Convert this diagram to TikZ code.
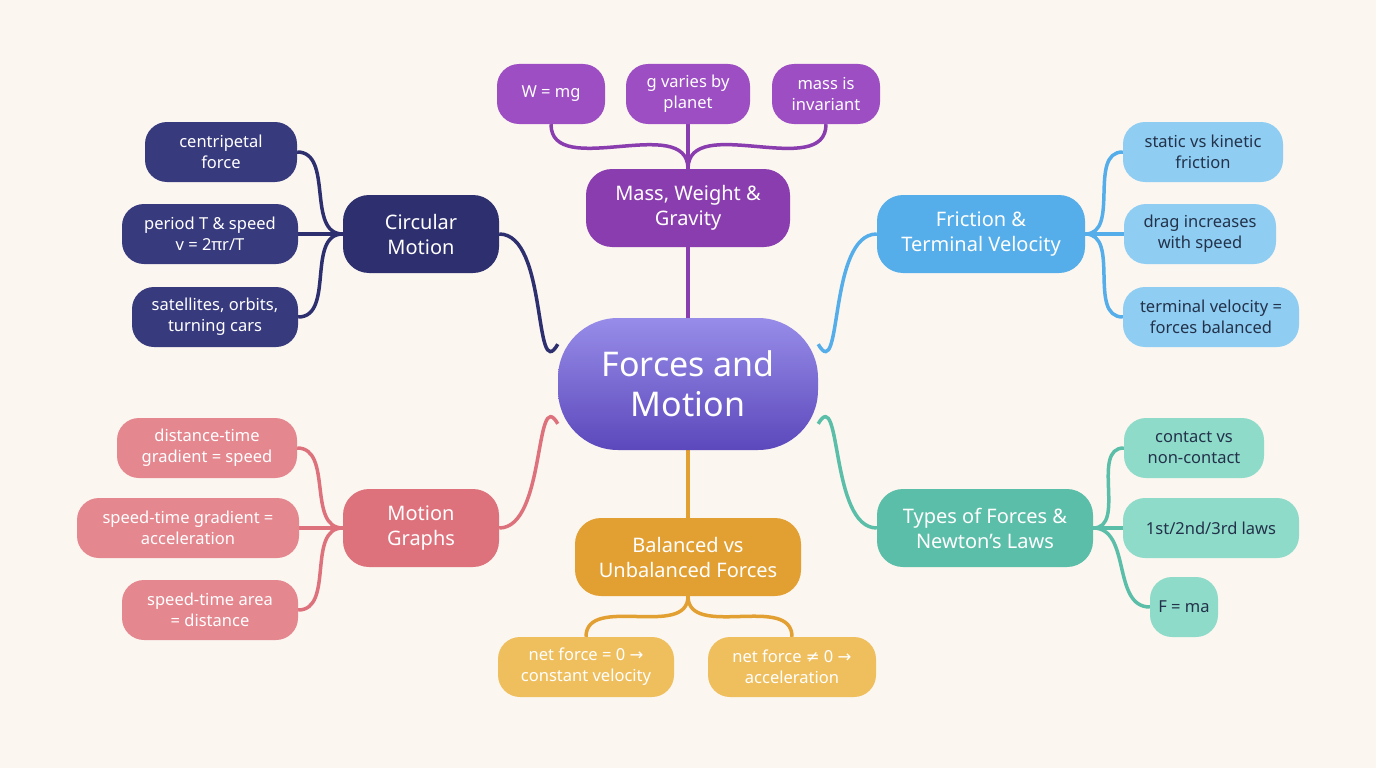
\documentclass[tikz,border=0pt]{standalone}
\usepackage{fontspec}
\setmainfont{Noto Sans}
\newfontfamily\symf{DejaVu Sans}
\usetikzlibrary{backgrounds}
\definecolor{bgc}{HTML}{FBF6F0}
\definecolor{cA}{HTML}{6650D0}
\definecolor{pur}{HTML}{8A3DAE}\definecolor{purL}{HTML}{9C4EC2}
\definecolor{nav}{HTML}{2E2F6E}\definecolor{navL}{HTML}{383A7E}
\definecolor{blu}{HTML}{55AEEA}\definecolor{bluL}{HTML}{8FCEF2}
\definecolor{pnk}{HTML}{DE727C}\definecolor{pnkL}{HTML}{E5878F}
\definecolor{org}{HTML}{E3A032}\definecolor{orgL}{HTML}{EFBF5E}
\definecolor{tea}{HTML}{5BBEA8}\definecolor{teaL}{HTML}{8EDBC9}
\definecolor{dk}{HTML}{23324A}
\tikzset{
 box/.style={rounded corners=26pt,align=center,inner sep=0pt,text=white},
 br/.style={box,minimum height=78pt,font=\fontsize{20}{25}\selectfont},
 ch/.style={box,rounded corners=22pt,minimum height=60pt,font=\fontsize{16.5}{21}\selectfont},
 ln/.style={line width=3.5pt}
}
\begin{document}
\begin{tikzpicture}[x=1pt,y=-1pt]
\node[box,minimum width=260pt,minimum height=132pt,rounded corners=60pt,top color=cA!80!blue!60!white,bottom color=cA!90!black,font=\fontsize{34}{40}\bfseries\selectfont] (c) at (688,384) {Forces and\\Motion};
% branches
\node[br,fill=pur,minimum width=204pt] (m) at (688,208) {Mass, Weight \&\\Gravity};
\node[br,fill=nav,minimum width=156pt] (cm) at (421,234) {Circular\\Motion};
\node[br,fill=blu,minimum width=208pt] (fr) at (981,234) {Friction \&\\Terminal Velocity};
\node[br,fill=pnk,minimum width=156pt] (mg) at (421,528) {Motion\\Graphs};
\node[br,fill=org,minimum width=226pt] (ba) at (688,557) {Balanced vs\\Unbalanced Forces};
\node[br,fill=tea,minimum width=216pt] (ty) at (985,528) {Types of Forces \&\\Newton’s Laws};
% children
\node[ch,fill=purL,minimum width=108pt] (m1) at (551,94) {W = mg};
\node[ch,fill=purL,minimum width=124pt] (m2) at (688,94) {g varies by\\planet};
\node[ch,fill=purL,minimum width=108pt] (m3) at (826,94) {mass is\\invariant};
\node[ch,fill=navL,minimum width=152pt] (c1) at (221,152) {centripetal\\force};
\node[ch,fill=navL,minimum width=176pt] (c2) at (210,234) {period T \& speed\\v = 2πr/T};
\node[ch,fill=navL,minimum width=166pt] (c3) at (215,317) {satellites, orbits,\\turning cars};
\node[ch,fill=bluL,text=dk,minimum width=160pt] (f1) at (1203,152) {static vs kinetic\\friction};
\node[ch,fill=bluL,text=dk,minimum width=152pt] (f2) at (1200,234) {drag increases\\with speed};
\node[ch,fill=bluL,text=dk,minimum width=176pt] (f3) at (1211,317) {terminal velocity =\\forces balanced};
\node[ch,fill=pnkL,minimum width=180pt] (g1) at (207,448) {distance-time\\gradient = speed};
\node[ch,fill=pnkL,minimum width=222pt] (g2) at (188,528) {speed-time gradient =\\acceleration};
\node[ch,fill=pnkL,minimum width=176pt] (g3) at (210,610) {speed-time area\\= distance};
\node[ch,fill=orgL,minimum width=176pt] (b1) at (586,667) {net force = 0 {\symf→}\\constant velocity};
\node[ch,fill=orgL,minimum width=168pt] (b2) at (792,667) {net force {\symf≠} 0 {\symf→}\\acceleration};
\node[ch,fill=teaL,text=dk,minimum width=140pt] (t1) at (1194,448) {contact vs\\non-contact};
\node[ch,fill=teaL,text=dk,minimum width=176pt] (t2) at (1211,528) {1st/2nd/3rd laws};
\node[ch,fill=teaL,text=dk,minimum width=68pt] (t3) at (1184,607) {F = ma};
\begin{scope}[on background layer]
\fill[bgc] (0,0) rectangle (1376,768);
\draw[ln,pur] (c.north) -- (m.south);
\draw[ln,org] (c.south) -- (ba.north);
\draw[ln,nav] (c.163) to[out=240,in=0] (cm.east);
\draw[ln,pnk] (c.197) to[out=120,in=0] (mg.east);
\draw[ln,blu] (c.17) to[out=-60,in=180] (fr.west);
\draw[ln,tea] (c.-17) to[out=60,in=180] (ty.west);
\foreach \k in {m1,m2,m3}{\draw[ln,pur] (m.north) to[out=90,in=-90] (\k.south);}
\foreach \k in {b1,b2}{\draw[ln,org] (ba.south) to[out=-90,in=90] (\k.north);}
\foreach \k in {c1,c2,c3}{\draw[ln,nav] (cm.west) to[out=180,in=0] (\k.east);}
\foreach \k in {g1,g2,g3}{\draw[ln,pnk] (mg.west) to[out=180,in=0] (\k.east);}
\foreach \k in {f1,f2,f3}{\draw[ln,blu] (fr.east) to[out=0,in=180] (\k.west);}
\foreach \k in {t1,t2,t3}{\draw[ln,tea] (ty.east) to[out=0,in=180] (\k.west);}
\end{scope}
\end{tikzpicture}
\end{document}
